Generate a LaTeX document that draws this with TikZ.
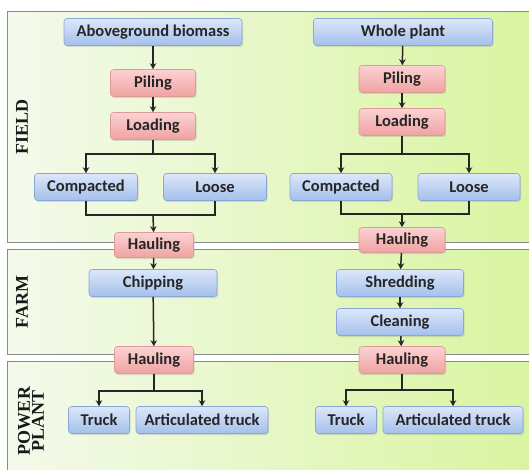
\documentclass[tikz,border=0pt]{standalone}
\usepackage{fontspec}
\setmainfont{Carlito}
\newfontfamily\zonefont{Liberation Serif}
\usepackage{tikz}
\usetikzlibrary{arrows.meta,shadows}

\definecolor{paleleft}{HTML}{F4FAEC}
\definecolor{limeright}{HTML}{D9F4A0}
\definecolor{bluetop}{HTML}{DCE7F9}
\definecolor{bluebot}{HTML}{A4C0EB}
\definecolor{blueline}{HTML}{8AA6D6}
\definecolor{pinktop}{HTML}{FBD2D2}
\definecolor{pinkbot}{HTML}{F0A2A2}
\definecolor{pinkline}{HTML}{DE9A9A}
\definecolor{panelline}{HTML}{8A8A8A}

\tikzset{
  panel/.style={draw=panelline, line width=1pt, left color=paleleft, right color=limeright, shading angle=90},
  boxbase/.style={rounded corners=3pt, line width=0.6pt, minimum height=27pt, inner sep=1pt,
    font=\fontsize{16.5}{18}\selectfont\bfseries, text=black!85,
    drop shadow={shadow xshift=1pt, shadow yshift=-1.5pt, opacity=0.25}},
  bluebox/.style={boxbase, draw=blueline, top color=bluetop, bottom color=bluebot},
  pinkbox/.style={boxbase, draw=pinkline, top color=pinktop, bottom color=pinkbot},
  zone/.style={rotate=90, font=\zonefont\fontsize{18}{19}\selectfont\bfseries, text=black!90, align=center},
  flow/.style={line width=1.5pt, black!85},
  arr/.style={flow, -{Stealth[length=6pt, width=6.5pt]}}
}

\begin{document}
\begin{tikzpicture}[x=1pt, y=-1pt]
\useasboundingbox (0,0) rectangle (529,470);
\fill[white] (0,0) rectangle (529,470);

% zones
\draw[panel] (7,12) rectangle (535,242);
\draw[panel] (7,249) rectangle (535,354);
\draw[panel] (7,361) rectangle (535,490);
\node[zone] (field) at (22,127) {FIELD};
\node[zone] (farm) at (22,302) {FARM};
\node[zone] (power) at (31,421) {POWER\\[-5pt]PLANT};

% left chain
\node[bluebox, minimum width=178pt] (bio) at (153,32) {Aboveground biomass};
\node[pinkbox, minimum width=85pt] (pilA) at (153,83) {Piling};
\node[pinkbox, minimum width=85pt] (loadA) at (153,126) {Loading};
\node[bluebox, minimum width=103pt] (compA) at (86,187) {Compacted};
\node[bluebox, minimum width=103pt] (looseA) at (215,187) {Loose};
\node[pinkbox, minimum width=79pt, minimum height=25pt] (haulA) at (154,245) {Hauling};
\node[bluebox, minimum width=128pt] (chip) at (153,283) {Chipping};
\node[pinkbox, minimum width=79pt] (haulB) at (154,360) {Hauling};
\node[bluebox, minimum width=61pt] (truckA) at (99,420) {Truck};
\node[bluebox, minimum width=132pt] (artA) at (202,420) {Articulated truck};

% right chain
\node[bluebox, minimum width=179pt] (whole) at (403,32) {Whole plant};
\node[pinkbox, minimum width=86pt] (pilB) at (402,79) {Piling};
\node[pinkbox, minimum width=86pt] (loadB) at (402,122) {Loading};
\node[bluebox, minimum width=102pt] (compB) at (341,187) {Compacted};
\node[bluebox, minimum width=102pt] (looseB) at (469,187) {Loose};
\node[pinkbox, minimum width=86pt, minimum height=25pt] (haulC) at (402,240) {Hauling};
\node[bluebox, minimum width=127pt] (shred) at (400,283) {Shredding};
\node[bluebox, minimum width=127pt] (clean) at (400,322) {Cleaning};
\node[pinkbox, minimum width=86pt] (haulD) at (402,360) {Hauling};
\node[bluebox, minimum width=61pt] (truckB) at (346,420) {Truck};
\node[bluebox, minimum width=140pt] (artB) at (453,420) {Articulated truck};

% branch points
\coordinate (splitA) at (153,154);
\coordinate (mergeA) at (153,215);
\coordinate (splitB) at (402,154);
\coordinate (mergeB) at (402,214);
\coordinate (splitC) at (154,391);
\coordinate (splitD) at (402,390);

% left connectors
\draw[arr] (bio) -- (pilA);
\draw[arr] (pilA) -- (loadA);
\draw[flow] (loadA) -- (splitA);
\draw[arr] (splitA) -| (compA);
\draw[arr] (splitA) -| (looseA);
\draw[flow] (compA.south) |- (mergeA) -| (looseA.south);
\draw[arr] (mergeA) -- (haulA);
\draw[arr] (haulA) -- (chip);
\draw[arr] (chip) -- (haulB);
\draw[flow] (haulB) -- (splitC);
\draw[arr] (splitC) -| (truckA);
\draw[arr] (splitC) -| (artA);

% right connectors
\draw[arr] (whole) -- (pilB);
\draw[arr] (pilB) -- (loadB);
\draw[flow] (loadB) -- (splitB);
\draw[arr] (splitB) -| (compB);
\draw[arr] (splitB) -| (looseB);
\draw[flow] (compB.south) |- (mergeB) -| (looseB.south);
\draw[arr] (mergeB) -- (haulC);
\draw[arr] (haulC) -- (shred);
\draw[arr] (shred) -- (clean);
\draw[arr] (clean) -- (haulD);
\draw[flow] (haulD) -- (splitD);
\draw[arr] (splitD) -| (truckB);
\draw[arr] (splitD) -| (artB);
\end{tikzpicture}
\end{document}
